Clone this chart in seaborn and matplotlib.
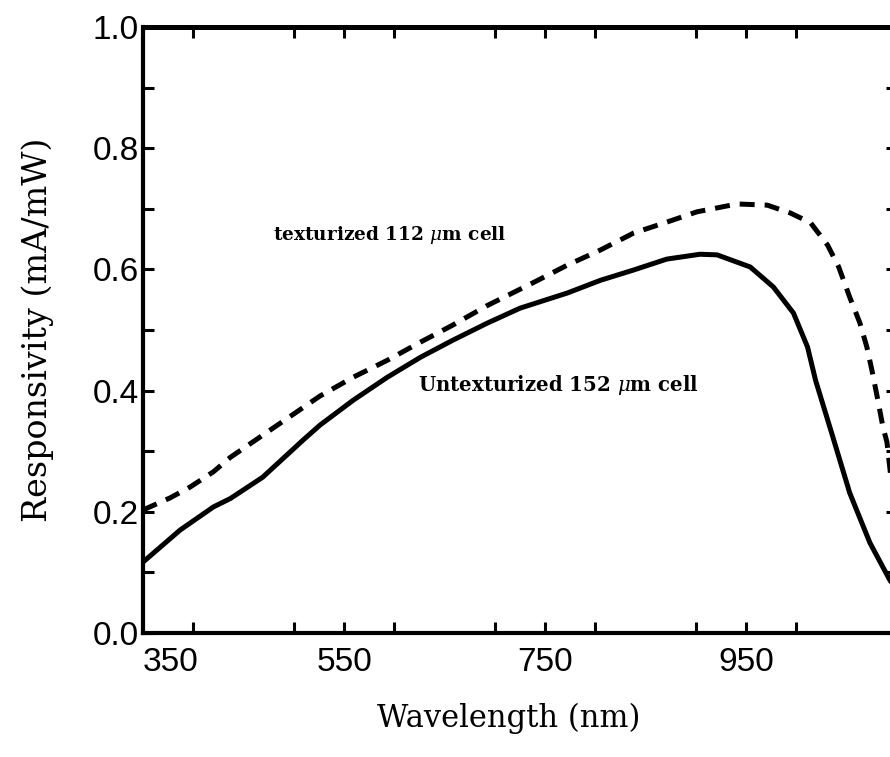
import pandas as pd
import seaborn as sns
import matplotlib.pyplot as plt
from matplotlib.ticker import MultipleLocator

# Untexturized 152 um cell (solid line)
wl_untex = [350, 387, 420, 437, 469, 509, 526, 559, 593, 626, 658, 692, 725,
            772, 805, 838, 871, 904, 921, 954, 977, 997, 1011, 1019, 1035,
            1053, 1073, 1093, 1100]
resp_untex = [0.117, 0.170, 0.208, 0.222, 0.257, 0.318, 0.343, 0.384, 0.422,
              0.455, 0.483, 0.511, 0.536, 0.561, 0.582, 0.599, 0.617, 0.625,
              0.624, 0.604, 0.571, 0.528, 0.472, 0.417, 0.330, 0.231, 0.149,
              0.087, 0.070]

# Texturized 112 um cell (dashed line)
wl_tex = [350, 377, 397, 420, 437, 459, 526, 559, 593, 626, 658, 692, 738,
          772, 805, 838, 871, 901, 941, 971, 994, 1014, 1031, 1042, 1053,
          1063, 1070, 1075, 1081, 1086, 1090, 1092, 1100]
resp_tex = [0.203, 0.223, 0.241, 0.266, 0.290, 0.315, 0.391, 0.422, 0.450,
            0.480, 0.508, 0.540, 0.578, 0.607, 0.632, 0.660, 0.678, 0.695,
            0.708, 0.706, 0.693, 0.677, 0.640, 0.604, 0.554, 0.512, 0.472,
            0.434, 0.384, 0.340, 0.315, 0.285, 0.170]

df = pd.concat([
    pd.DataFrame({'Wavelength': wl_untex, 'Responsivity': resp_untex, 'Cell': 'untex'}),
    pd.DataFrame({'Wavelength': wl_tex, 'Responsivity': resp_tex, 'Cell': 'tex'}),
])

sns.set_style('ticks')
plt.rcParams['font.family'] = ['Liberation Sans', 'DejaVu Sans']
plt.rcParams['mathtext.fontset'] = 'dejavuserif'
for key in ['text.color', 'axes.labelcolor', 'axes.edgecolor',
            'xtick.color', 'ytick.color']:
    plt.rcParams[key] = 'black'

fig = plt.figure(figsize=(8.9, 7.57), dpi=100)
# right spine sits just past the right edge of the picture, as in the scan
ax = fig.add_axes([143 / 890, 124 / 757, 754 / 890, 606 / 757])

sns.lineplot(data=df, x='Wavelength', y='Responsivity', style='Cell',
             dashes={'untex': '', 'tex': (3, 2)}, color='black', linewidth=3.6,
             estimator=None, legend=False, ax=ax)

ax.set_xlim(350, 1100)
ax.set_ylim(0, 1.0)
ax.set_xticks([350, 550, 750, 950])
ax.xaxis.set_minor_locator(MultipleLocator(100))
ax.yaxis.set_major_locator(MultipleLocator(0.2))
ax.yaxis.set_minor_locator(MultipleLocator(0.1))
ax.tick_params(which='both', direction='in', length=8, width=2.2,
               top=True, right=True)
ax.tick_params(axis='x', labelsize=24, pad=10)
ax.tick_params(axis='y', labelsize=24, pad=3)
# the first x label sits a little to the right of the corner
ax.get_xticklabels()[0].set_horizontalalignment('left')

for side in ['left', 'bottom', 'right']:
    ax.spines[side].set_linewidth(3)
ax.spines['top'].set_linewidth(3.6)

ax.set_xlabel('Wavelength (nm)', family='DejaVu Serif', fontsize=22)
ax.xaxis.set_label_coords(0.485, -0.115)
ax.set_ylabel('Responsivity (mA/mW)', family='DejaVu Serif', fontsize=24, labelpad=28)

ax.text(479, 0.657, r'texturized 112 $\mu$m cell', family='DejaVu Serif',
        weight='bold', fontsize=13.3, va='center')
ax.text(624, 0.409, r'Untexturized 152 $\mu$m cell', family='DejaVu Serif',
        weight='bold', fontsize=14.2, va='center')

fig.savefig('out.png', dpi=100)
